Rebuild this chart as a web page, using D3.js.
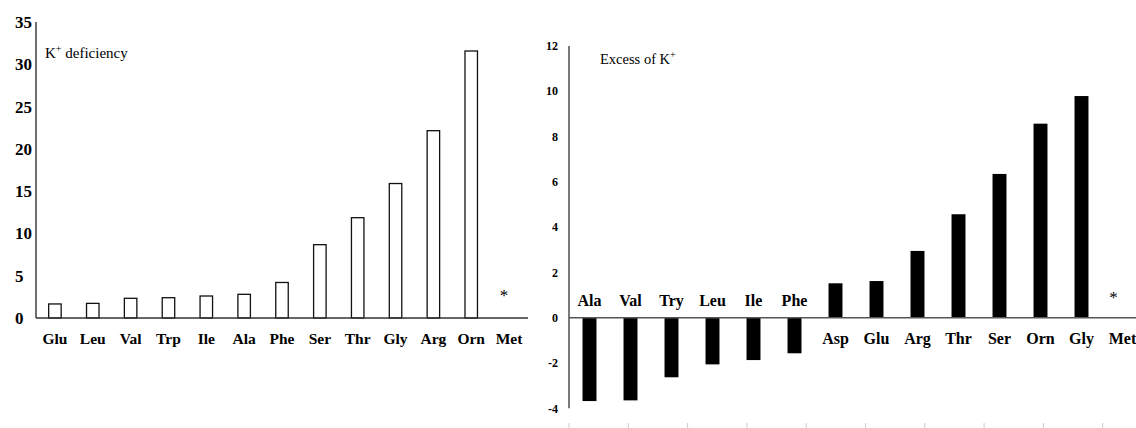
<!DOCTYPE html>
<html>
<head>
<meta charset="utf-8">
<script src="https://cdn.jsdelivr.net/npm/d3@7"></script>
<style>
  html, body { margin: 0; padding: 0; background: #fff; }
  svg { display: block; }
  text { font-family: "Liberation Serif", "Times New Roman", serif; fill: #000; }
</style>
</head>
<body>
<svg id="chart" width="1136" height="428"></svg>
<script>
// ---- Data ----
const leftCategories = ["Glu", "Leu", "Val", "Trp", "Ile", "Ala", "Phe", "Ser", "Thr", "Gly", "Arg", "Orn", "Met"];
const leftValues = [1.66, 1.73, 2.33, 2.4, 2.6, 2.8, 4.2, 8.67, 11.86, 15.9, 22.15, 31.57, null];
const leftTicks = [0, 5, 10, 15, 20, 25, 30, 35];
const leftTitle = "K";

const rightCategories = ["Ala", "Val", "Try", "Leu", "Ile", "Phe", "Asp", "Glu", "Arg", "Thr", "Ser", "Orn", "Gly", "Met"];
const rightValues = [-3.68, -3.65, -2.63, -2.06, -1.87, -1.57, 1.52, 1.62, 2.95, 4.57, 6.35, 8.57, 9.79, null];
const rightTicks = [-4, -2, 0, 2, 4, 6, 8, 10, 12];

const svg = d3.select("#chart");

// ---- Left chart ----
const L = { x0: 36, x1: 528, yTop: 22, yBase: 318 };
const xL = d3.scaleBand().domain(leftCategories).range([L.x0, L.x1]).paddingInner(0.67).paddingOuter(0.335);
const yL = d3.scaleLinear().domain([0, 35]).range([L.yBase, L.yTop]);
const gL = svg.append("g");

// bars
gL.selectAll("rect.bar").data(leftCategories.map((c, i) => ({ c, v: leftValues[i] })).filter(d => d.v != null))
  .enter().append("rect")
  .attr("x", d => xL(d.c)).attr("width", xL.bandwidth())
  .attr("y", d => yL(d.v)).attr("height", d => yL(0) - yL(d.v))
  .attr("fill", "#fff").attr("stroke", "#111").attr("stroke-width", 1.3);

// axes lines
gL.append("line").attr("x1", L.x0).attr("x2", L.x0).attr("y1", yL(35)).attr("y2", yL(0))
  .attr("stroke", "#333").attr("stroke-width", 1.4);
gL.append("line").attr("x1", L.x0).attr("x2", L.x1).attr("y1", yL(0)).attr("y2", yL(0))
  .attr("stroke", "#333").attr("stroke-width", 1.6);

// y tick labels (left aligned)
gL.selectAll("text.yt").data(leftTicks).enter().append("text")
  .attr("x", 15).attr("y", d => yL(d)).attr("dy", "0.35em")
  .attr("font-size", 17).attr("font-weight", "bold").text(d => d);

// category labels
gL.selectAll("text.xc").data(leftCategories).enter().append("text")
  .attr("x", d => xL(d) + xL.bandwidth() / 2).attr("y", 344)
  .attr("text-anchor", "middle").attr("font-size", 15.5).attr("font-weight", "bold").text(d => d);

// asterisk for missing
leftCategories.forEach((c, i) => {
  if (leftValues[i] == null) {
    gL.append("text").attr("x", xL(c) + xL.bandwidth() / 2 - 5).attr("y", 301)
      .attr("text-anchor", "middle").attr("font-size", 17).text("*");
  }
});

// title
const tL = gL.append("text").attr("x", 45).attr("y", 58).attr("font-size", 15);
tL.append("tspan").text(leftTitle);
tL.append("tspan").attr("font-size", 10).attr("dy", -6).text("+");
tL.append("tspan").attr("dy", 6).text(" deficiency");

// ---- Right chart ----
const R = { x0: 569, x1: 1143, yTop: 46, yBot: 408.3 };
const xR = d3.scaleBand().domain(rightCategories).range([R.x0, R.x1]).paddingInner(0.66).paddingOuter(0.33);
const yR = d3.scaleLinear().domain([-4, 12]).range([R.yBot, R.yTop]);
const gR = svg.append("g");

gR.selectAll("rect.bar").data(rightCategories.map((c, i) => ({ c, v: rightValues[i] })).filter(d => d.v != null))
  .enter().append("rect")
  .attr("x", d => xR(d.c)).attr("width", xR.bandwidth())
  .attr("y", d => yR(Math.max(0, d.v))).attr("height", d => Math.abs(yR(d.v) - yR(0)))
  .attr("fill", "#000");

gR.append("line").attr("x1", R.x0).attr("x2", R.x0).attr("y1", yR(12)).attr("y2", yR(-4))
  .attr("stroke", "#333").attr("stroke-width", 1.3);
gR.append("line").attr("x1", R.x0).attr("x2", 1136).attr("y1", yR(0)).attr("y2", yR(0))
  .attr("stroke", "#555").attr("stroke-width", 1.4);

gR.selectAll("text.yt").data(rightTicks).enter().append("text")
  .attr("x", 558).attr("y", d => yR(d)).attr("dy", "0.35em")
  .attr("text-anchor", "end").attr("font-size", 12).attr("font-weight", "bold").text(d => d);

gR.selectAll("text.xc").data(rightCategories.map((c, i) => ({ c, v: rightValues[i] }))).enter().append("text")
  .attr("x", d => xR(d.c) + xR.bandwidth() / 2)
  .attr("y", d => (d.v != null && d.v < 0) ? 306 : 344)
  .attr("text-anchor", "middle").attr("font-size", 16).attr("font-weight", "bold").text(d => d.c);

rightCategories.forEach((c, i) => {
  if (rightValues[i] == null) {
    gR.append("text").attr("x", xR(c) + xR.bandwidth() / 2 - 9).attr("y", 303)
      .attr("text-anchor", "middle").attr("font-size", 17).text("*");
  }
});

// faint ticks at the bottom edge
const bottomSlots = d3.range(11);
const xTickR = d3.scaleLinear().domain([0, 10]).range([R.x0, R.x0 + 593]);
gR.selectAll("line.bt").data(bottomSlots.slice(0, 10)).enter().append("line")
  .attr("x1", d => xTickR(d)).attr("x2", d => xTickR(d))
  .attr("y1", 423).attr("y2", 428).attr("stroke", "#ccc").attr("stroke-width", 1);

const tR = gR.append("text").attr("x", 600).attr("y", 64).attr("font-size", 14.5);
tR.append("tspan").text("Excess of K");
tR.append("tspan").attr("font-size", 10).attr("dy", -6).text("+");
</script>
</body>
</html>
